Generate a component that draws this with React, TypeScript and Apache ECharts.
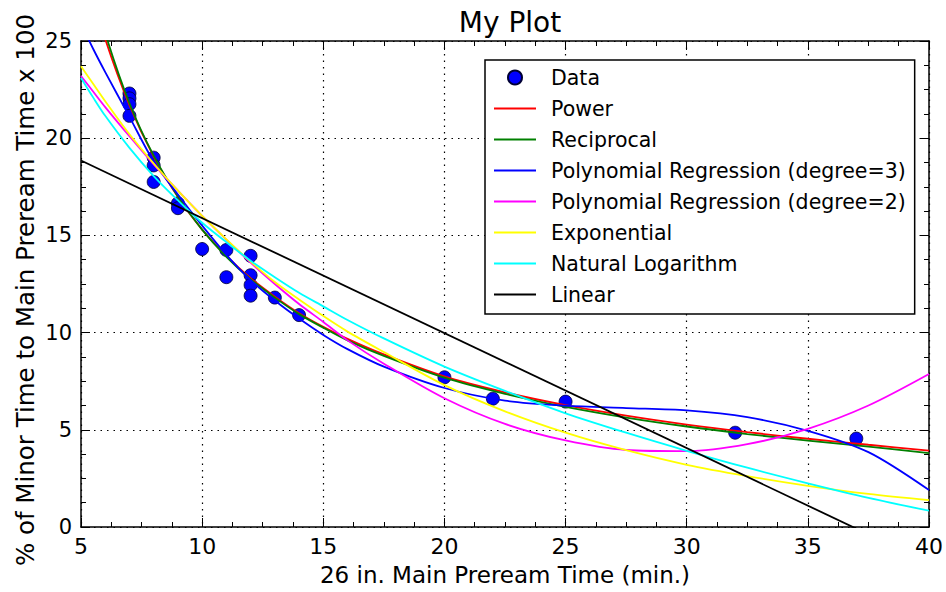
import React, { useEffect, useRef } from "react";
import * as echarts from "echarts";

const X_SAMPLES = [5, 5.5, 6, 7, 8, 9, 10, 11, 12, 13, 14, 15, 16, 17.5, 20, 22.5, 25, 27.5, 30, 32.5, 35, 37.5, 40];

const POWER = [30.0, 27.4, 25.1, 21.7, 19.05, 16.98, 15.3, 13.95, 12.8, 11.85, 11.0, 10.3, 9.68, 8.88, 7.75, 6.93, 6.27, 5.73, 5.27, 4.88, 4.54, 4.23, 3.93];
const RECIPROCAL = [30.6, 27.8, 25.4, 21.8, 19.1, 17.0, 15.3, 13.9, 12.75, 11.8, 10.95, 10.25, 9.6, 8.8, 7.68, 6.85, 6.18, 5.63, 5.17, 4.78, 4.44, 4.13, 3.8];
const POLY3 = [25.9, 24.6, 23.4, 21.1, 18.8, 17.1, 15.5, 14.0, 12.7, 11.65, 10.72, 9.88, 9.15, 8.25, 7.15, 6.5, 6.24, 6.12, 6.0, 5.65, 4.95, 3.85, 1.9];
const POLY2 = [23.2, 22.4, 21.6, 20.1, 18.65, 17.3, 16.0, 14.78, 13.6, 12.5, 11.47, 10.55, 9.6, 8.4, 6.62, 5.3, 4.45, 3.96, 3.9, 4.26, 5.05, 6.25, 7.87];
const EXPONENTIAL = [23.7, 22.8, 21.9, 20.2, 18.7, 17.3, 16.0, 14.8, 13.65, 12.6, 11.7, 10.85, 10.05, 9.0, 7.3, 5.95, 4.85, 3.95, 3.2, 2.62, 2.12, 1.7, 1.38];
const NAT_LOG = [23.1, 22.1, 21.15, 19.5, 18.05, 16.8, 15.65, 14.65, 13.7, 12.85, 12.05, 11.35, 10.65, 9.7, 8.25, 7.0, 5.85, 4.85, 3.92, 3.05, 2.25, 1.5, 0.84];
const LINEAR_X = [5, 40];
const LINEAR_Y = [18.85, -1.86];

// Measured data points
const DATA_X = [7, 7, 7, 7, 8, 8, 8, 9, 9, 10, 11, 11, 12, 12, 12, 12, 13, 14, 20, 22, 25, 32, 37];
const DATA_Y = [22.3, 22.05, 21.75, 21.15, 19.0, 18.6, 17.75, 16.65, 16.4, 14.3, 14.25, 12.85, 13.95, 12.95, 12.45, 11.9, 11.8, 10.9, 7.7, 6.6, 6.45, 4.85, 4.55];

const LEGEND_NAMES = [
  "Data",
  "Power",
  "Reciprocal",
  "Polynomial Regression (degree=3)",
  "Polynomial Regression (degree=2)",
  "Exponential",
  "Natural Logarithm",
  "Linear",
];

const TITLE = "My Plot";
const X_NAME = "26 in. Main Preream Time (min.)";
const Y_NAME = "% of Minor Time to Main Preream Time x 100";

const FONT = "DejaVu Sans, Verdana, sans-serif";

export default function App() {
  const ref = useRef<HTMLDivElement>(null);

  useEffect(() => {
    if (!ref.current) return;
    const chart = echarts.init(ref.current, null, { renderer: "svg" });

    const pairs = (xs: number[], ys: number[]) => xs.map((x, i) => [x, ys[i]]);

    const lineSeries = (name: string, color: string, xs: number[], ys: number[]) => ({
      name,
      type: "line",
      data: pairs(xs, ys),
      smooth: 0.3,
      symbol: "none",
      showSymbol: false,
      clip: true,
      silent: true,
      z: 3,
      lineStyle: { color, width: 1.8 },
      itemStyle: { color },
    });

    const gridLine = {
      show: true,
      lineStyle: { color: "#000", width: 1.2, type: [1.5, 5] as any },
    };

    const frameLine = { show: true, onZero: false, lineStyle: { color: "#000", width: 1.5 } };
    const majorTick = { show: true, inside: true, length: 9, lineStyle: { color: "#000", width: 1 } };
    const minorTick = { show: true, splitNumber: 4, length: 5, lineStyle: { color: "#000", width: 1 } };

    const legendData = LEGEND_NAMES.map((name, i) =>
      i === 0 ? { name } : { name, itemStyle: { opacity: 0 } }
    );

    chart.setOption({
      animation: false,
      backgroundColor: "#fff",
      title: {
        text: TITLE,
        left: 505,
        top: 3,
        textAlign: "center",
        textStyle: { fontFamily: FONT, fontSize: 28, fontWeight: "normal", color: "#000" },
      },
      graphic: [
        {
          type: "text",
          x: 25,
          y: 290,
          rotation: Math.PI / 2,
          silent: true,
          style: {
            text: Y_NAME,
            fontFamily: FONT,
            fontSize: 24.5,
            fill: "#000",
            align: "center",
            verticalAlign: "middle",
          },
        },
      ],
      grid: { left: 81, right: 17, top: 41, bottom: 65, containLabel: false },
      legend: {
        data: legendData,
        orient: "vertical",
        left: 485,
        top: 60,
        padding: [7, 9, 9, 8],
        itemWidth: 42,
        itemHeight: 14,
        itemGap: 10,
        selectedMode: false,
        backgroundColor: "#fff",
        borderColor: "#000",
        borderWidth: 1.5,
        borderRadius: 0,
        textStyle: {
          fontFamily: FONT,
          fontSize: 20.5,
          color: "#000",
          padding: [0, 0, 0, 10],
        },
      },
      xAxis: [
        {
          type: "value",
          min: 5,
          max: 40,
          interval: 5,
          position: "bottom",
          name: X_NAME,
          nameLocation: "middle",
          nameGap: 36,
          nameTextStyle: { fontFamily: FONT, fontSize: 23, color: "#000" },
          axisLine: frameLine,
          axisTick: majorTick,
          minorTick,
          axisLabel: { fontFamily: FONT, fontSize: 22, color: "#000", margin: 8 },
          splitLine: gridLine,
        },
        {
          type: "value",
          min: 5,
          max: 40,
          interval: 5,
          position: "top",
          axisLine: frameLine,
          axisTick: majorTick,
          minorTick,
          axisLabel: { show: false },
          splitLine: { show: false },
        },
      ],
      yAxis: [
        {
          type: "value",
          min: 0,
          max: 25,
          interval: 5,
          position: "left",
          axisLine: frameLine,
          axisTick: majorTick,
          minorTick,
          axisLabel: { fontFamily: FONT, fontSize: 21, color: "#000", margin: 9 },
          splitLine: gridLine,
        },
        {
          type: "value",
          min: 0,
          max: 25,
          interval: 5,
          position: "right",
          axisLine: frameLine,
          axisTick: majorTick,
          minorTick,
          axisLabel: { show: false },
          splitLine: { show: false },
        },
      ],
      series: [
        {
          name: "Data",
          type: "scatter",
          data: pairs(DATA_X, DATA_Y),
          symbol: "circle",
          symbolSize: 13,
          silent: true,
          z: 2,
          itemStyle: { color: "#0000ff", opacity: 1, borderColor: "#000033", borderWidth: 0.8 },
        },
        lineSeries("Power", "#ff0000", X_SAMPLES, POWER),
        lineSeries("Reciprocal", "#008000", X_SAMPLES, RECIPROCAL),
        lineSeries("Polynomial Regression (degree=3)", "#0000ff", X_SAMPLES, POLY3),
        lineSeries("Polynomial Regression (degree=2)", "#ff00ff", X_SAMPLES, POLY2),
        lineSeries("Exponential", "#ffff00", X_SAMPLES, EXPONENTIAL),
        lineSeries("Natural Logarithm", "#00ffff", X_SAMPLES, NAT_LOG),
        lineSeries("Linear", "#000000", LINEAR_X, LINEAR_Y),
      ],
    });

    return () => chart.dispose();
  }, []);

  return (
    <div
      ref={ref}
      style={{ position: "fixed", left: 0, top: 0, width: 946, height: 592, background: "#fff" }}
    />
  );
}
